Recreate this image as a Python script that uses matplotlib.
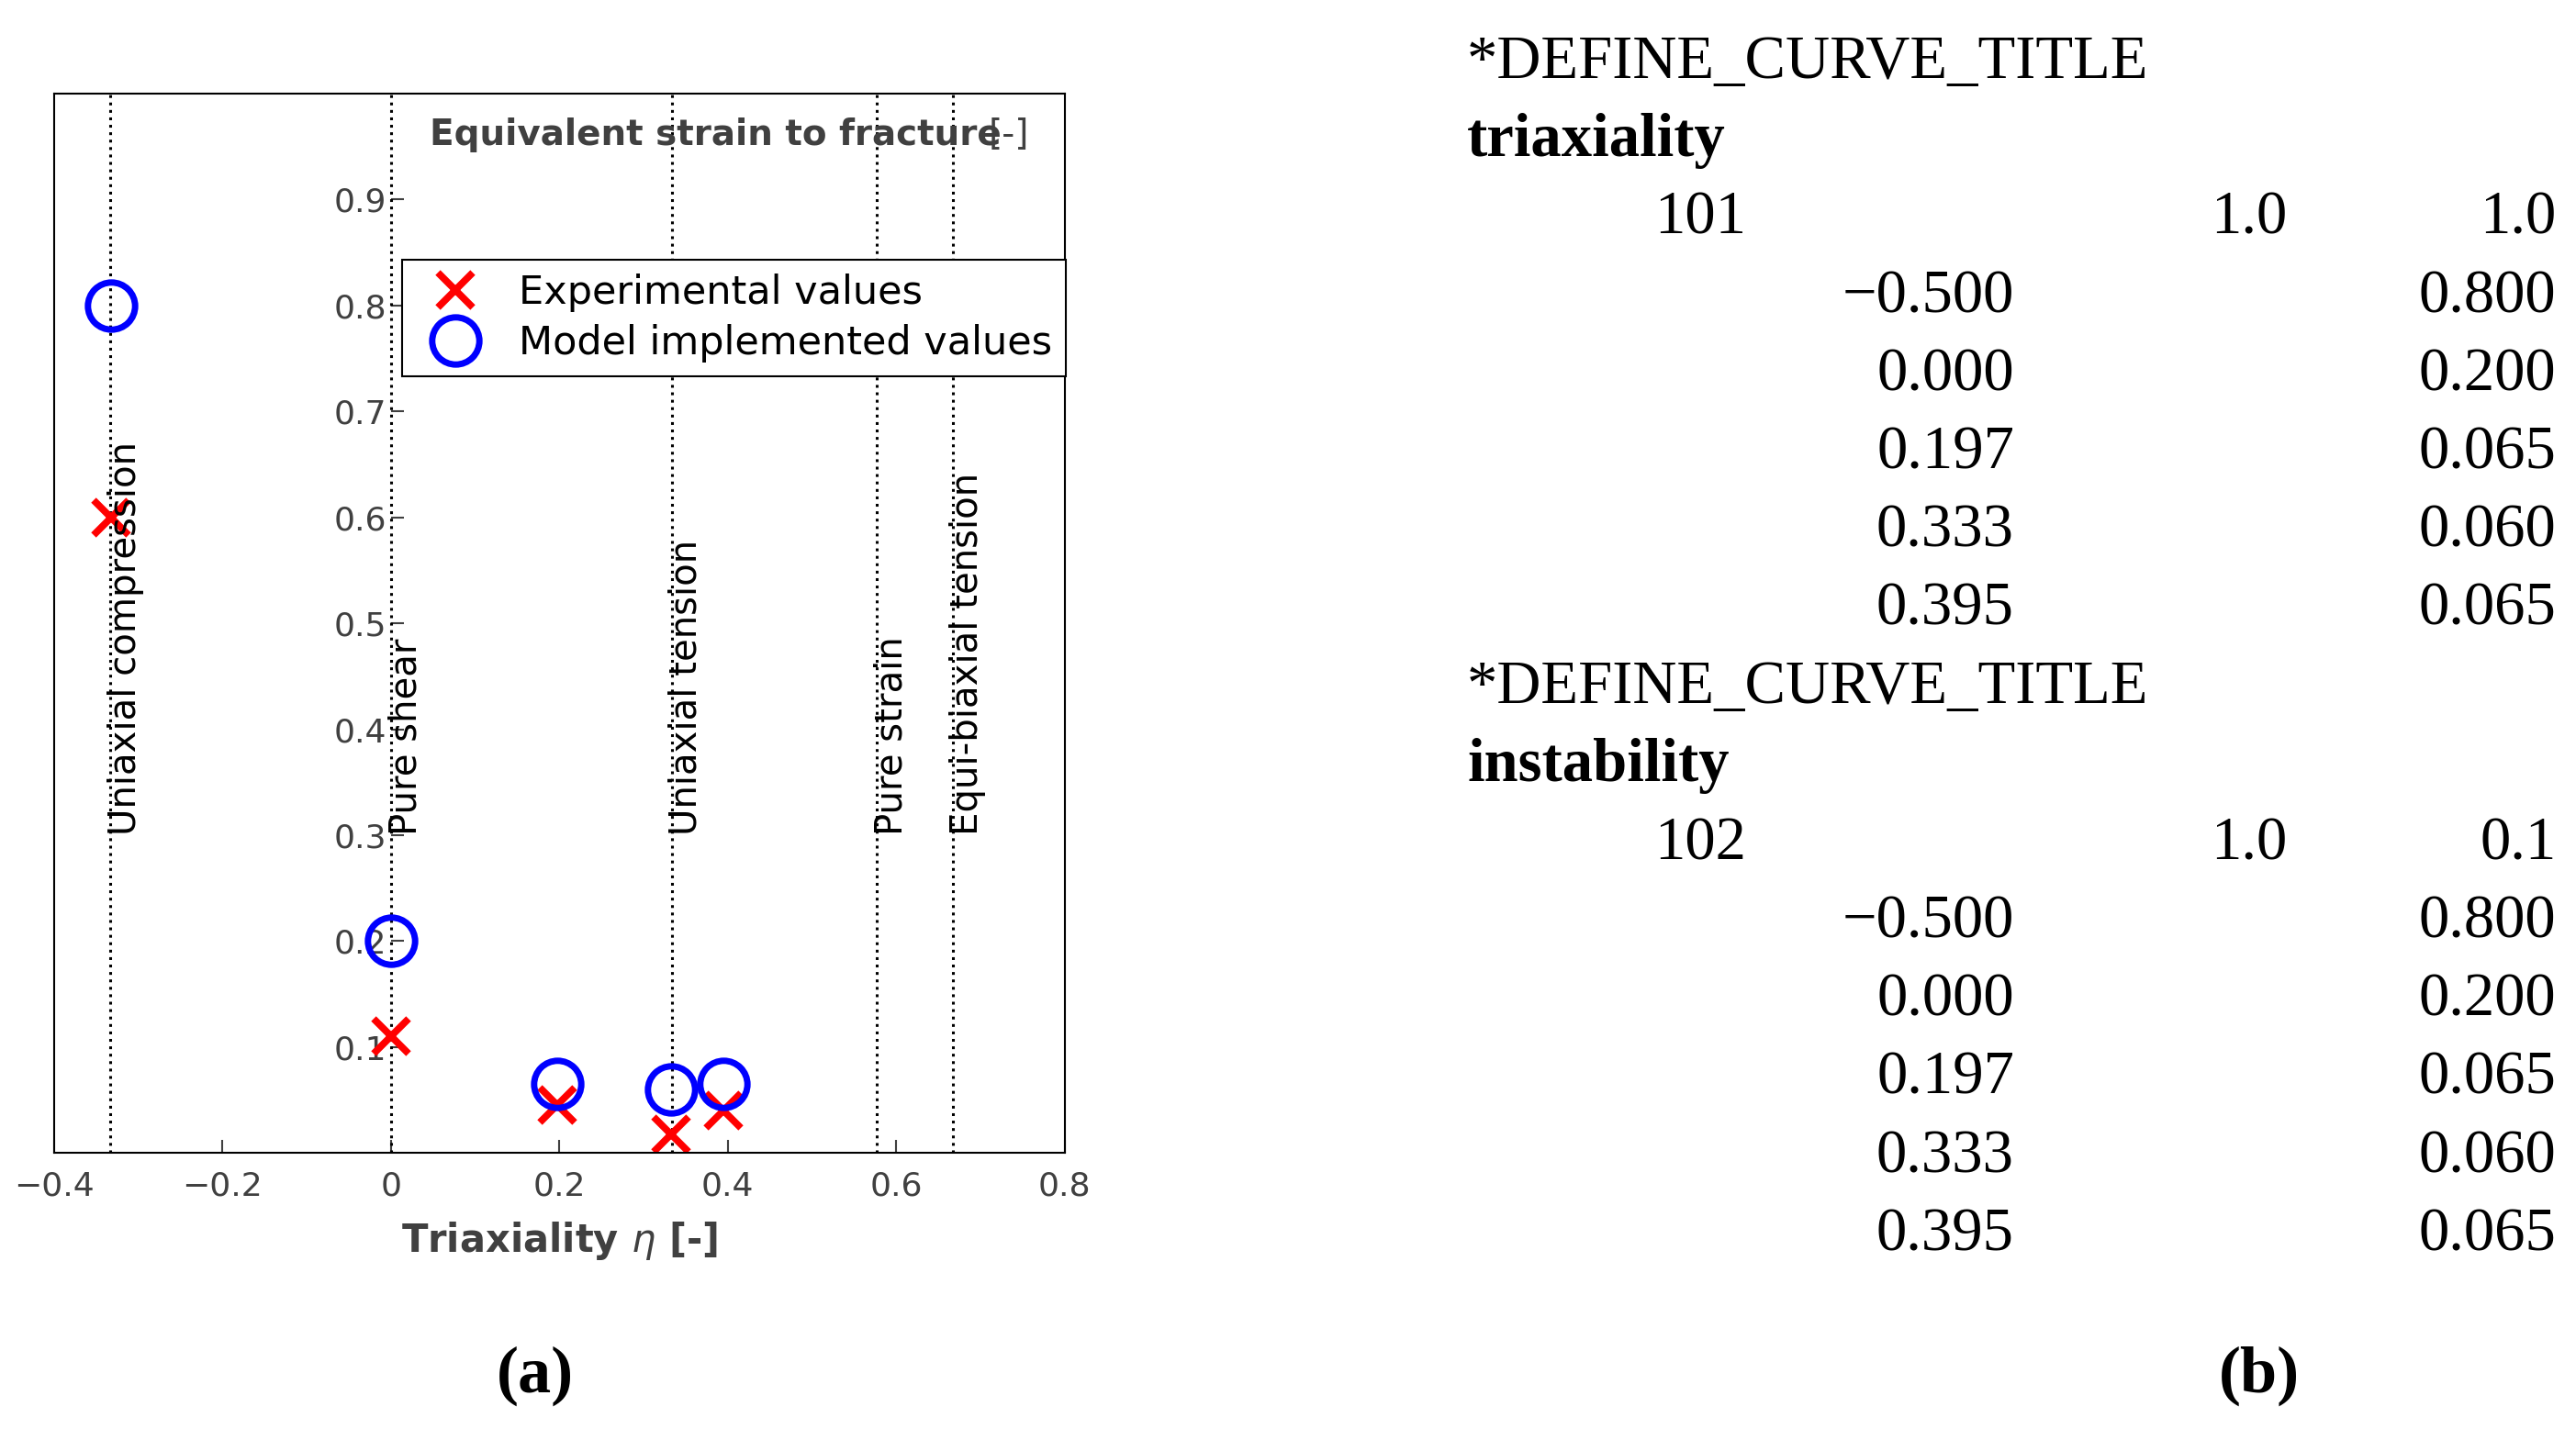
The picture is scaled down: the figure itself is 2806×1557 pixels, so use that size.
import matplotlib.pyplot as plt

# data
eta_exp = [-0.333, 0.0, 0.197, 0.333, 0.395]
eps_exp = [0.60, 0.11, 0.045, 0.018, 0.040]
eta_mod = [-0.333, 0.0, 0.197, 0.333, 0.395]
eps_mod = [0.80, 0.20, 0.065, 0.060, 0.065]

state_x = [-1/3, 0.0, 1/3, 0.577, 0.667]
state_lbl = ["Uniaxial compression", "Pure shear", "Uniaxial tension", "Pure strain", "Equi-biaxial tension"]

xticks = [-0.4, -0.2, 0, 0.2, 0.4, 0.6, 0.8]
xticklabels = ["\u22120.4", "\u22120.2", "0", "0.2", "0.4", "0.6", "0.8"]
yticks = [0.1, 0.2, 0.3, 0.4, 0.5, 0.6, 0.7, 0.8, 0.9]

card_rows = [
    ("*DEFINE_CURVE_TITLE", "", "", "", False),
    ("triaxiality", "", "", "", True),
    ("", "101", "1.0", "1.0", False),
    ("", "\u22120.500", "", "0.800", False),
    ("", "0.000", "", "0.200", False),
    ("", "0.197", "", "0.065", False),
    ("", "0.333", "", "0.060", False),
    ("", "0.395", "", "0.065", False),
    ("*DEFINE_CURVE_TITLE", "", "", "", False),
    ("instability", "", "", "", True),
    ("", "102", "1.0", "0.1", False),
    ("", "\u22120.500", "", "0.800", False),
    ("", "0.000", "", "0.200", False),
    ("", "0.197", "", "0.065", False),
    ("", "0.333", "", "0.060", False),
    ("", "0.395", "", "0.065", False),
]

W, H = 1568, 870  # layout measured on the small preview
fig = plt.figure(figsize=(28.06, 15.57), dpi=100)
ax = fig.add_axes([33/W, 1-702/H, (648-33)/W, (702-57)/H])
ax.set_xlim(-0.4, 0.8)
ax.set_ylim(0, 1.0)
for s in ax.spines.values():
    s.set_linewidth(1.5)

for x, lbl in zip(state_x, state_lbl):
    ax.axvline(x, color='black', ls=':', lw=2.2)
    ax.text(x - 0.004, 0.3, lbl, rotation=90, ha='left', va='bottom', fontsize=29, color='black')

ax.plot(eta_exp, eps_exp, 'x', color='red', ms=27, mew=5.5, ls='none', label='Experimental values')
ax.plot(eta_mod, eps_mod, 'o', mfc='none', mec='blue', ms=37, mew=5, ls='none', label='Model implemented values')

ax.set_xticks(xticks, xticklabels)
ax.tick_params(axis='x', direction='in', length=10, width=1.5, labelsize=26, colors='#404040', pad=14)
ax.set_yticks([])
sec = ax.secondary_yaxis(1/3)
sec.set_yticks(yticks)
sec.tick_params(direction='in', length=10, width=1.5, labelsize=26, colors='#404040')
sec.spines['left'].set_visible(False)
ax.set_xlabel(r"Triaxiality $\eta$ [-]", fontsize=30, fontweight='bold', color='#404040', labelpad=14)

ax.text(0.372, 0.961, "Equivalent strain to fracture", transform=ax.transAxes, fontsize=28,
        fontweight='bold', color='#404040', va='center')
ax.text(0.925, 0.961, "[-]", transform=ax.transAxes, fontsize=28, color='#404040', va='center')

leg = ax.legend(loc='upper left', bbox_to_anchor=(0.325, 0.862), fontsize=31, frameon=True,
                fancybox=False, edgecolor='black', framealpha=1, handletextpad=0.6, borderpad=0.35,
                labelspacing=0.3)
leg.get_frame().set_linewidth(1.5)

fig.text(326/W, 1-838/H, "(a)", fontsize=52, fontweight='bold', ha='center', va='center', family='Liberation Serif')
fig.text(1375/W, 1-838/H, "(b)", fontsize=52, fontweight='bold', ha='center', va='center', family='Liberation Serif')

y0, dy = 38, 47.6
for i, (c0, c1, c2, c3, bold) in enumerate(card_rows):
    yy = 1 - (y0 + i*dy)/H
    kw = dict(fontsize=48, va='center', family='Liberation Serif')
    if c0:
        fig.text(893/W, yy, c0, ha='left', fontweight='bold' if bold else 'normal', **kw)
    if c2:
        fig.text(1063/W, yy, c1, ha='right', **kw)
        fig.text(1392/W, yy, c2, ha='right', **kw)
    elif c1:
        fig.text(1226/W, yy, c1, ha='right', **kw)
    if c3:
        fig.text(1556/W, yy, c3, ha='right', **kw)

fig.savefig("out.png", dpi=100)
